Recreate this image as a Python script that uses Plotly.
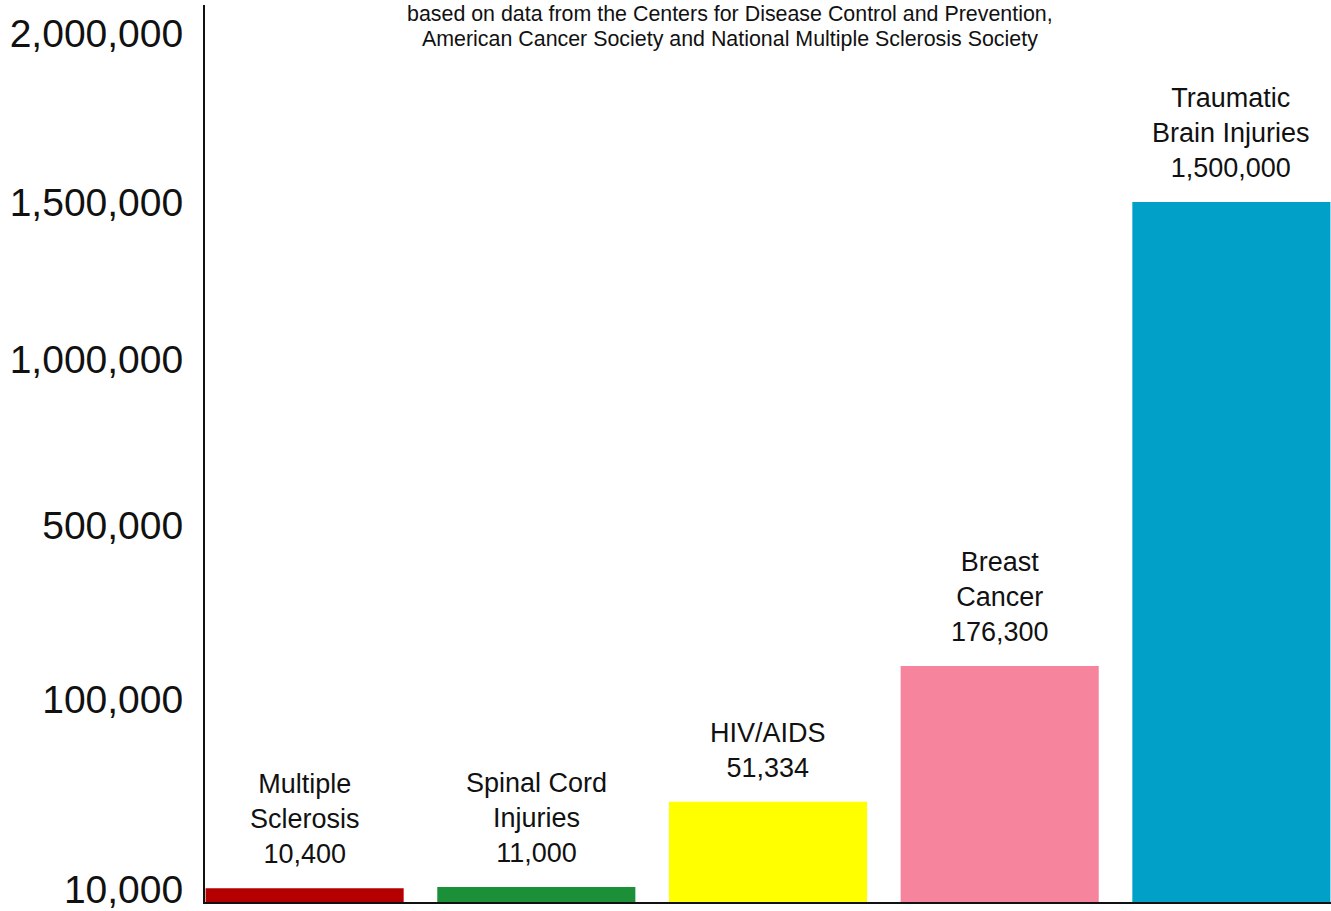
import numpy as np
import plotly.graph_objects as go

# ---- data ----
categories = ["Multiple Sclerosis", "Spinal Cord Injuries", "HIV/AIDS",
              "Breast Cancer", "Traumatic Brain Injuries"]
label_lines = ["Multiple<br>Sclerosis", "Spinal Cord<br>Injuries", "HIV/AIDS",
               "Breast<br>Cancer", "Traumatic<br>Brain Injuries"]
values = [10400, 11000, 51334, 176300, 1500000]
bar_colors = ["#b40000", "#1b9038", "#ffff00", "#f6849c", "#00a0c8"]
tick_values = [10000, 100000, 500000, 1000000, 1500000, 2000000]
tick_labels = ["10,000", "100,000", "500,000", "1,000,000", "1,500,000", "2,000,000"]
subtitle_lines = ["based on data from the Centers for Disease Control and Prevention,",
                  "American Cancer Society and National Multiple Sclerosis Society"]

# ---- the chart's own (non-uniform) value axis: tick values placed along the axis ----
axis_anchor_values = [0] + tick_values
axis_anchor_pos = [0, 13, 204, 379, 546, 704, 873]
tick_pos = axis_anchor_pos[1:]
bar_pos = np.interp(values, axis_anchor_values, axis_anchor_pos)

FONT = "Liberation Sans, Arial, Helvetica, sans-serif"

fig = go.Figure()
fig.add_trace(go.Bar(
    x=list(range(len(categories))),
    y=bar_pos,
    width=0.855,
    marker=dict(color=bar_colors, line=dict(width=0)),
    hovertext=[f"{c}: {v:,}" for c, v in zip(categories, values)],
    hoverinfo="text",
))

for i, (lab, v, h) in enumerate(zip(label_lines, values, bar_pos)):
    fig.add_annotation(
        x=i, y=h, xref="x", yref="y",
        text=f"{lab}<br>{v:,}",
        showarrow=False, yanchor="bottom", yshift=17,
        font=dict(family=FONT, size=27, color="#111111"),
        align="center",
    )

for k, line in enumerate(subtitle_lines):
    fig.add_annotation(
        x=0.466, y=1, xref="paper", yref="paper",
        text=line,
        showarrow=False, yanchor="middle", yshift=-9 - 25 * k,
        font=dict(family=FONT, size=21.4, color="#111111"),
        align="center",
    )

fig.update_layout(
    width=1331, height=911,
    margin=dict(l=205, r=0, t=5, b=4),
    plot_bgcolor="white", paper_bgcolor="white",
    showlegend=False,
    xaxis=dict(range=[-0.43, 4.43], showticklabels=False, ticks="",
               showgrid=False, zeroline=False, showline=True,
               linecolor="#111111", linewidth=2, fixedrange=True),
    yaxis=dict(range=[0, 902], tickvals=tick_pos, ticktext=tick_labels,
               ticks="", showgrid=False, zeroline=False, showline=True,
               linecolor="#111111", linewidth=2, ticklabelstandoff=12,
               ticklabeloverflow="allow",
               tickfont=dict(family=FONT, size=39, color="#111111")),
)

fig.write_html("out.html",
               config={"displayModeBar": False},
               post_script="document.body.style.margin='0px';document.body.style.overflow='hidden';")
